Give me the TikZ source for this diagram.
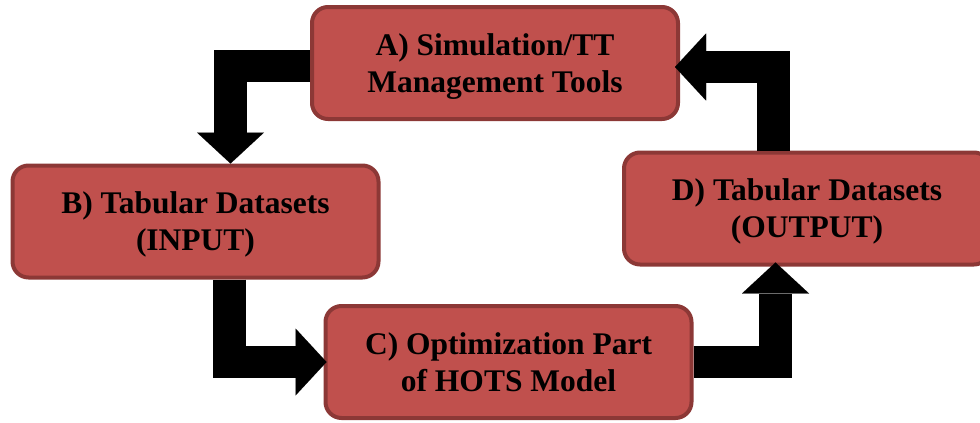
\documentclass[tikz,border=0pt]{standalone}
\usepackage{fontspec}
\setmainfont{Liberation Serif}
\usetikzlibrary{arrows.meta}
\definecolor{boxfill}{HTML}{C0504D}
\definecolor{boxline}{HTML}{8C3836}
\tikzset{
  stagebox/.style={draw=boxline, fill=boxfill, line width=4pt, rounded corners=16pt,
    minimum width=366pt, minimum height=112pt, inner sep=0pt, align=center,
    text depth=0pt,
    font=\fontsize{31.5}{37}\selectfont\bfseries, text=black},
  blockarrow/.style={draw=black, line width=32.5pt, line join=miter,
    -{Triangle[width=67pt,length=31pt,line width=0.01pt]}}
}
\begin{document}
\begin{tikzpicture}[x=1pt,y=-1pt]
\useasboundingbox (0,0) rectangle (980,423);
\node[stagebox] (A) at (495,63) {A) Simulation/TT\\Management Tools};
\node[stagebox] (B) at (195.5,221.5) {B) Tabular Datasets\\(INPUT)};
\node[stagebox] (C) at (508.5,362) {C) Optimization Part\\of HOTS Model};
\node[stagebox] (D) at (807,208.5) {D) Tabular Datasets\\(OUTPUT)};
\draw[blockarrow] ([yshift=-3pt]A.west) -| ([xshift=35pt]B.north);
\draw[blockarrow] ([xshift=34pt]B.south) |- ([xshift=3pt]C.west);
\draw[blockarrow] (C.east) -| ([xshift=-31.5pt,yshift=4pt]D.south);
\draw[blockarrow] ([xshift=-33.5pt]D.north) |- ([xshift=-5pt,yshift=-4pt]A.east);
\end{tikzpicture}
\end{document}
